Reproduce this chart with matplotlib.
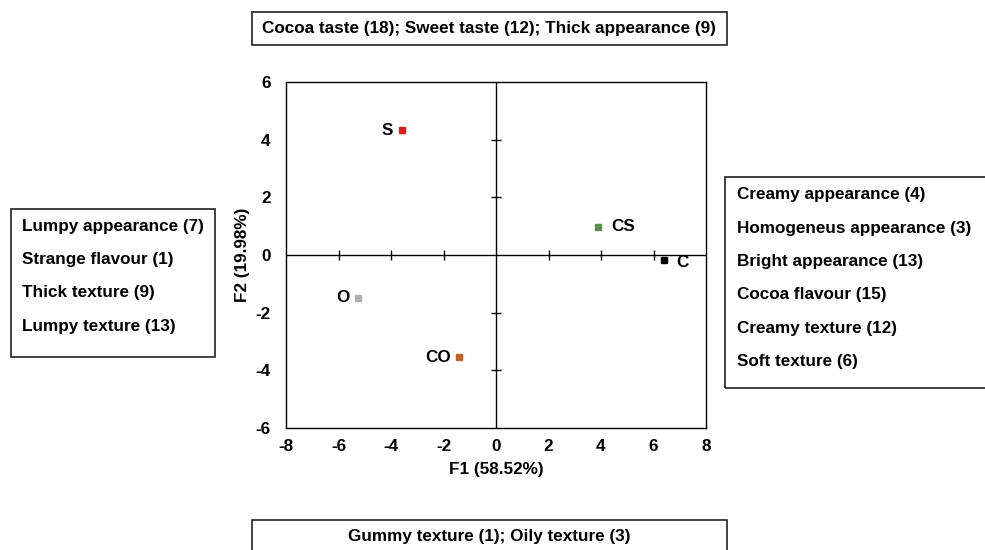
import matplotlib.pyplot as plt
from matplotlib.patches import Rectangle

plt.rcParams["font.family"] = ["Liberation Sans", "DejaVu Sans"]
plt.rcParams["font.weight"] = "bold"
plt.rcParams["axes.unicode_minus"] = False

# Sample scores on the first two factors
samples = ["S", "CS", "C", "O", "CO"]
f1 = [-3.6, 3.9, 6.4, -5.25, -1.4]
f2 = [4.32, 0.98, -0.17, -1.48, -3.55]
colors = ["#e41a1c", "#5a8f45", "#000000", "#b0b0b0", "#c4622a"]
label_side = ["left", "right", "right", "left", "left"]

x_ticks = [-8, -6, -4, -2, 0, 2, 4, 6, 8]
y_ticks = [-6, -4, -2, 0, 2, 4, 6]

top_terms = ["Cocoa taste (18)", "Sweet taste (12)", "Thick appearance (9)"]
bottom_terms = ["Gummy texture (1)", "Oily texture (3)"]
left_terms = ["Lumpy appearance (7)", "Strange flavour (1)", "Thick texture (9)",
              "Lumpy texture (13)"]
right_terms = ["Creamy appearance (4)", "Homogeneus appearance (3)",
               "Bright appearance (13)", "Cocoa flavour (15)",
               "Creamy texture (12)", "Soft texture (6)"]

W, H = 985, 550
FS = 12.3


def fig_box(fig, x0, y0, x1, y1):
    # pixel coords (top-left origin) -> figure fraction rectangle
    fig.patches.append(Rectangle((x0 / W, 1 - y1 / H), (x1 - x0) / W, (y1 - y0) / H,
                                 transform=fig.transFigure, fill=False,
                                 edgecolor="#222222", linewidth=1.2))


def main():
    fig = plt.figure(figsize=(W / 100, H / 100), dpi=100)
    ax = fig.add_axes([286 / W, 1 - 428 / H, 420 / W, 346 / H])

    ax.set_xlim(-8, 8)
    ax.set_ylim(-6, 6)
    ax.set_xticks(x_ticks)
    ax.set_yticks(y_ticks)
    ax.tick_params(axis="x", length=0, labelsize=FS, pad=8)
    ax.tick_params(axis="y", length=0, labelsize=FS, pad=11)
    for lab in ax.get_xticklabels() + ax.get_yticklabels():
        lab.set_fontweight("bold")
    for s in ax.spines.values():
        s.set_linewidth(1.0)

    # crossing axes with tick marks
    ax.axhline(0, color="black", linewidth=1.0)
    ax.axvline(0, color="black", linewidth=1.0)
    xt = [t for t in x_ticks if t not in (0, -8, 8)]
    yt = [t for t in y_ticks if t not in (0, -6, 6)]
    ax.plot(xt, [0] * len(xt), linestyle="none", marker="|", markersize=6.5,
            color="black", markeredgewidth=1.0)
    ax.plot([0] * len(yt), yt, linestyle="none", marker="_", markersize=6.5,
            color="black", markeredgewidth=1.0)

    for name, x, y, c, side in zip(samples, f1, f2, colors, label_side):
        ax.plot(x, y, marker="s", markersize=4.5, color=c, linestyle="none")
        off = 9 if side == "right" else -6
        ha = "left" if side == "right" else "right"
        ax.annotate(name, (x, y), xytext=(off, 0 if name != "C" else -2),
                    textcoords="offset points", ha=ha, va="center",
                    fontsize=FS, fontweight="bold")

    ax.set_xlabel("F1 (58.52%)", fontsize=FS, fontweight="bold", labelpad=6)
    ax.set_ylabel("F2 (19.98%)", fontsize=FS, fontweight="bold", labelpad=4)

    # descriptor boxes
    fig_box(fig, 252, 12, 727, 45)
    fig.text(489 / W, 1 - 29 / H, "; ".join(top_terms), ha="center", va="center",
             fontsize=FS, fontweight="bold")

    fig_box(fig, 252, 520, 727, 560)
    fig.text(489 / W, 1 - 537 / H, "; ".join(bottom_terms), ha="center",
             va="center", fontsize=FS, fontweight="bold")

    fig_box(fig, 11, 209, 215, 357)
    for i, t in enumerate(left_terms):
        fig.text(22 / W, 1 - (226 + 33.5 * i) / H, t, ha="left", va="center",
                 fontsize=FS, fontweight="bold")

    fig_box(fig, 725, 177, 990, 388)
    for i, t in enumerate(right_terms):
        fig.text(737 / W, 1 - (195 + 33.3 * i) / H, t, ha="left", va="center",
                 fontsize=FS, fontweight="bold")

    fig.savefig("out.png", dpi=100)


if __name__ == "__main__":
    main()
